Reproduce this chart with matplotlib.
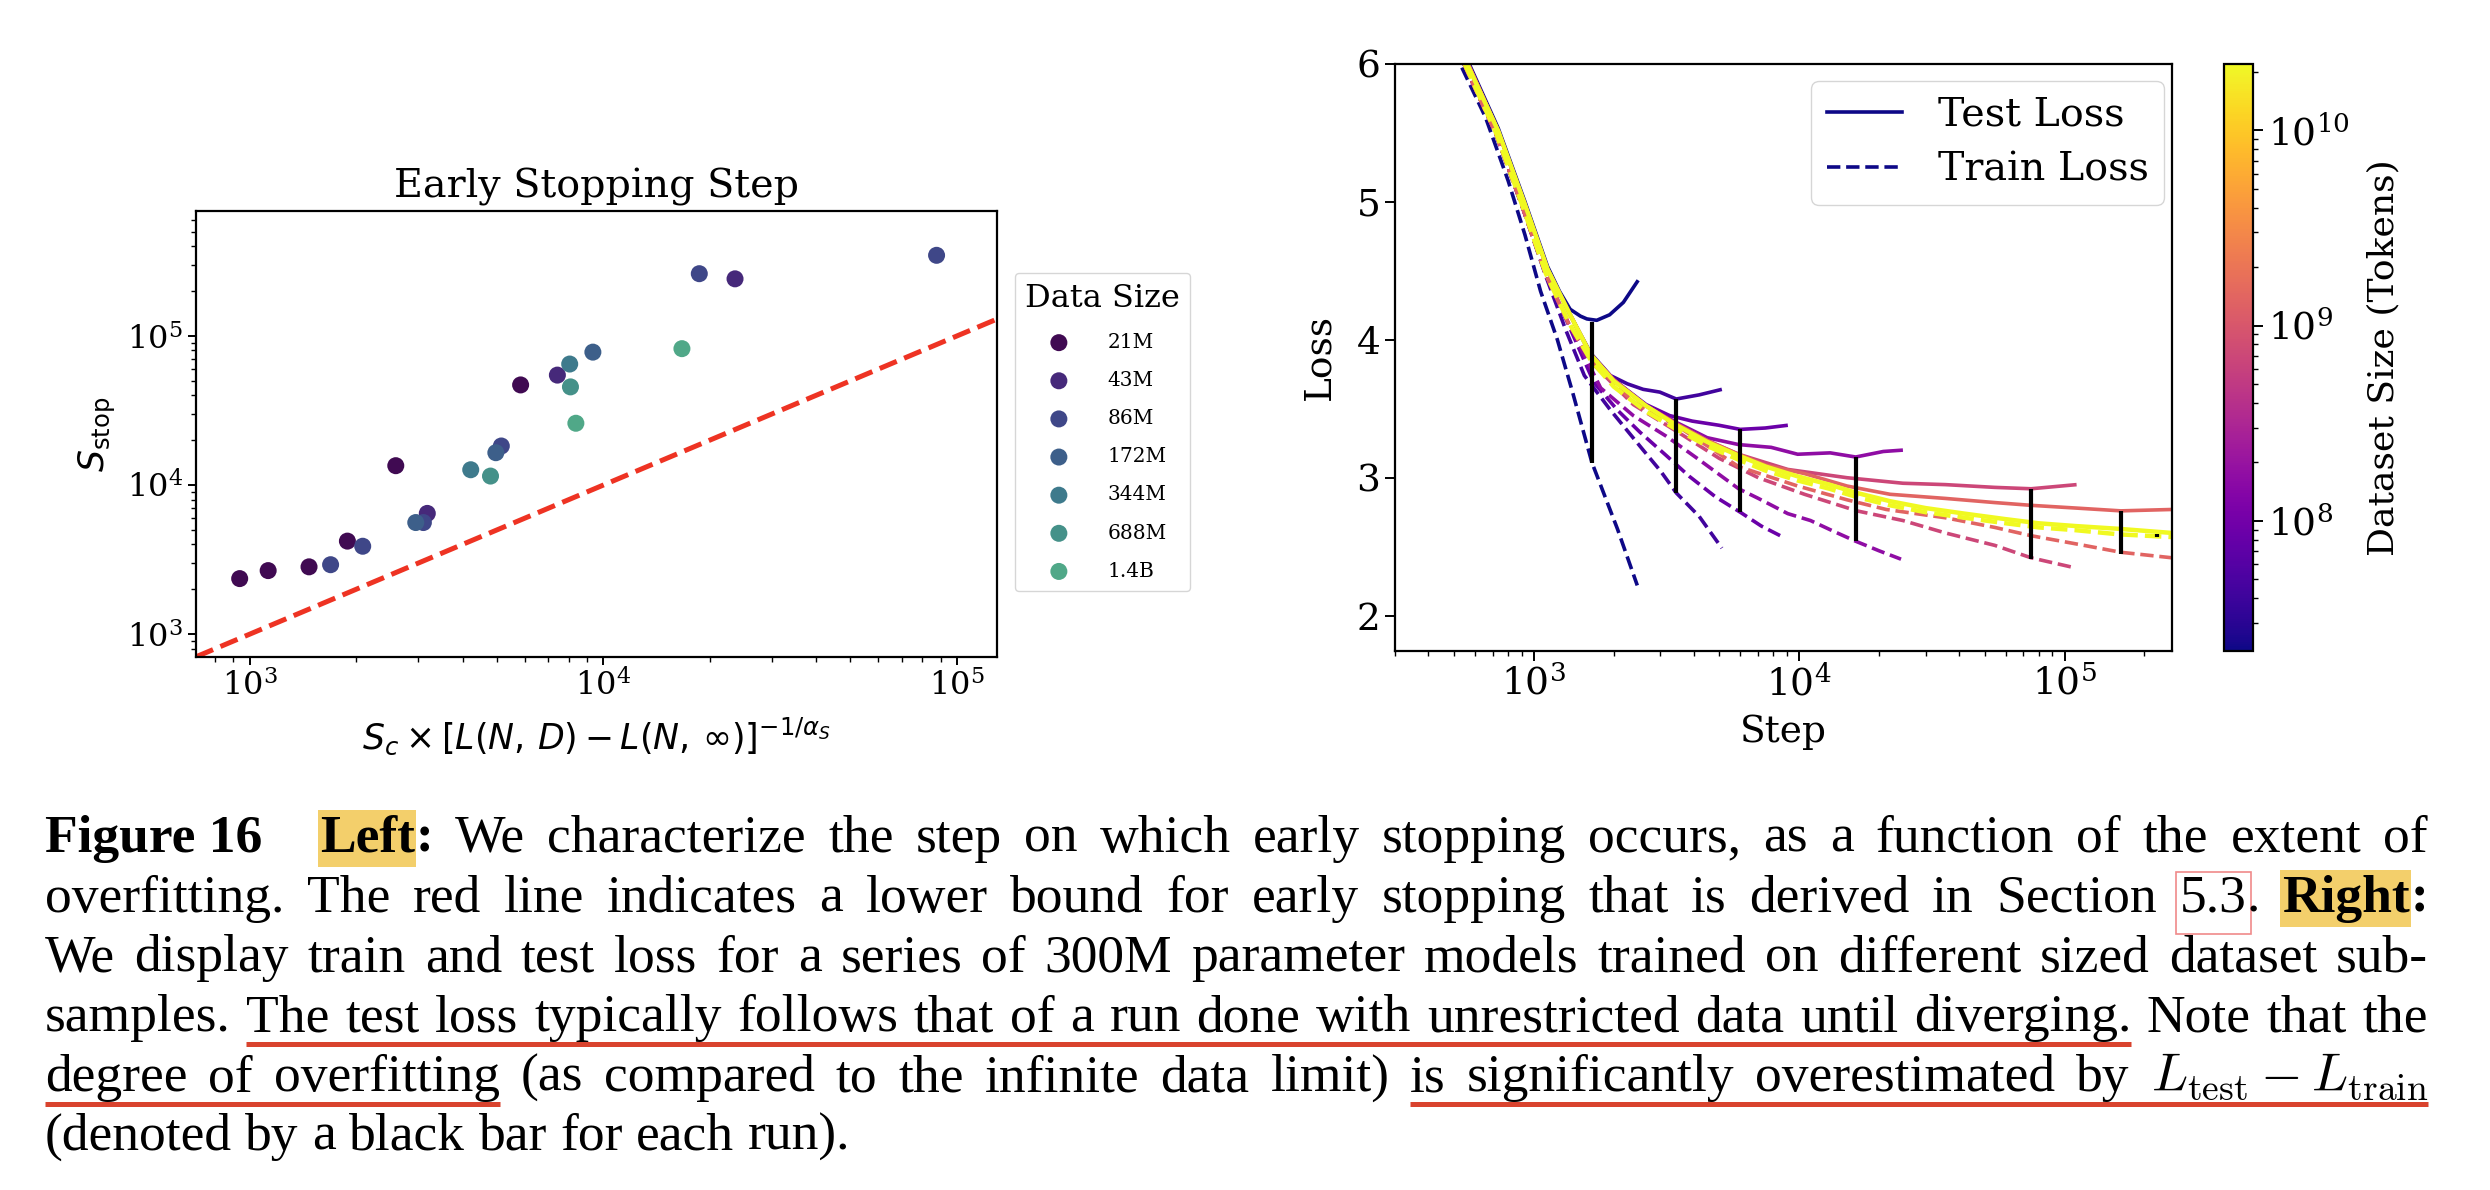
import numpy as np
import matplotlib
matplotlib.use("Agg")
import matplotlib.pyplot as plt
from matplotlib.colors import LogNorm
from matplotlib.patches import Rectangle
from matplotlib.lines import Line2D
import matplotlib.cm as cm

plt.rcParams["font.family"] = "serif"
plt.rcParams["font.serif"] = ["DejaVu Serif"]
plt.rcParams["mathtext.fontset"] = "dejavusans"
plt.rcParams["axes.linewidth"] = 1.6

# ---------------- Left panel data ----------------
size_labels = ["21M", "43M", "86M", "172M", "344M", "688M", "1.4B"]
size_colors = ["#400a52", "#46297a", "#3f4788", "#3d5f8a", "#3e7a8c", "#459189", "#50a888"]
pred_step = [937, 1128, 1472, 1694, 1890, 2088, 2590, 3180, 2950, 3100, 4220, 4800,
             4970, 5150, 5840, 7420, 8040, 8080, 8370, 9350, 16700, 18700, 23600, 87700]
stop_step = [2360, 2670, 2830, 2925, 4210, 3890, 13500, 6460, 5610, 5610, 12680, 11500,
             16500, 18300, 47000, 54700, 64900, 45600, 26000, 78000, 82300, 262000, 242000, 348000]
point_size = ["21M", "21M", "21M", "86M", "21M", "86M", "21M", "43M", "172M", "86M", "344M", "688M",
              "172M", "86M", "21M", "43M", "344M", "688M", "1.4B", "172M", "1.4B", "86M", "43M", "86M"]
bound_x = [1e3, 1e5]   # lower bound S_stop = x
bound_y = [1e3, 1e5]

# ---------------- Right panel data ----------------
run_sizes = [2.15e7, 4.3e7, 8.6e7, 1.72e8, 6.88e8, 1.38e9, 2.2e10]
test_steps = [
    [570, 735, 926, 1127, 1250, 1371, 1500, 1586, 1727, 1931, 2176, 2474],
    [565, 735, 926, 1127, 1371, 1641, 1945, 2253, 2584, 2986, 3443, 4200, 5113],
    [565, 735, 926, 1127, 1371, 1641, 2000, 2650, 3251, 3954, 4985, 6000, 7452, 9065],
    [565, 735, 926, 1127, 1371, 1641, 2000, 2650, 3451, 4500, 5915, 7840, 9870, 13090, 16330, 20750, 24600],
    [565, 735, 926, 1127, 1371, 1641, 2000, 2650, 3450, 4500, 5915, 9060, 15140, 24600, 35560, 54600, 74800, 111000],
    [565, 735, 926, 1127, 1371, 1641, 2000, 2650, 3450, 4500, 5915, 7500, 10470, 15140, 22000, 35560, 54600,
     74800, 111000, 163000, 254000],
    [560, 735, 926, 1127, 1371, 1641, 2000, 2650, 3450, 4500, 5915, 7500, 9870, 13000, 16480, 22000, 30000,
     42000, 60000, 80000, 110000, 160000, 254000],
]
test_loss = [
    [6.0, 5.53, 5.0, 4.53, 4.35, 4.22, 4.17, 4.15, 4.14, 4.18, 4.27, 4.43],
    [6.0, 5.51, 4.98, 4.51, 4.18, 3.90, 3.74, 3.68, 3.64, 3.62, 3.57, 3.60, 3.64],
    [6.0, 5.51, 4.98, 4.51, 4.18, 3.89, 3.71, 3.53, 3.45, 3.41, 3.38, 3.35, 3.36, 3.38],
    [6.0, 5.51, 4.98, 4.51, 4.18, 3.89, 3.71, 3.52, 3.40, 3.29, 3.24, 3.22, 3.17, 3.18, 3.15, 3.19, 3.20],
    [6.0, 5.51, 4.98, 4.51, 4.18, 3.89, 3.71, 3.52, 3.39, 3.27, 3.17, 3.06, 3.00, 2.96, 2.95, 2.93, 2.92, 2.95],
    [6.0, 5.51, 4.98, 4.51, 4.18, 3.89, 3.71, 3.52, 3.39, 3.27, 3.17, 3.09, 3.03, 2.94, 2.88, 2.85, 2.82,
     2.80, 2.78, 2.76, 2.77],
    [6.0, 5.51, 4.98, 4.51, 4.18, 3.89, 3.70, 3.52, 3.38, 3.26, 3.16, 3.08, 3.01, 2.95, 2.89, 2.83, 2.78,
     2.74, 2.70, 2.67, 2.65, 2.63, 2.60],
]
train_steps = [
    [536, 658, 801, 926, 1061, 1227, 1400, 1656, 2066, 2455],
    [545, 720, 910, 1110, 1320, 1551, 1945, 2584, 3000, 3443, 4200, 5113],
    [545, 720, 910, 1110, 1350, 1684, 2066, 2512, 3160, 3855, 4850, 6000, 7200, 8690],
    [545, 720, 910, 1110, 1350, 1787, 2371, 3160, 4200, 5915, 7020, 9060, 11030, 13550, 16330, 20050, 24200],
    [545, 720, 910, 1110, 1350, 1641, 2371, 3630, 5000, 7020, 10470, 16480, 24600, 35560, 54600, 74800, 108000],
    [545, 720, 910, 1110, 1350, 1641, 2371, 3630, 5915, 9870, 15140, 21280, 35560, 54600, 74800, 111000,
     163000, 254000],
    [548, 720, 910, 1110, 1350, 1641, 2000, 2650, 3450, 4500, 5915, 7500, 9870, 13000, 16480, 22000, 30000,
     42000, 60000, 80000, 110000, 160000, 254000],
]
train_loss = [
    [5.97, 5.61, 5.15, 4.76, 4.35, 4.00, 3.62, 3.11, 2.63, 2.22],
    [6.0, 5.49, 4.95, 4.46, 4.07, 3.74, 3.49, 3.20, 3.05, 2.89, 2.72, 2.49],
    [6.0, 5.49, 4.95, 4.47, 4.11, 3.69, 3.49, 3.33, 3.16, 3.01, 2.86, 2.75, 2.65, 2.57],
    [6.0, 5.49, 4.95, 4.47, 4.12, 3.65, 3.45, 3.30, 3.13, 2.92, 2.85, 2.74, 2.69, 2.61, 2.54, 2.47, 2.41],
    [6.0, 5.49, 4.95, 4.47, 4.12, 3.84, 3.53, 3.31, 3.14, 3.00, 2.88, 2.76, 2.69, 2.60, 2.51, 2.42, 2.35],
    [6.0, 5.49, 4.95, 4.47, 4.12, 3.85, 3.55, 3.35, 3.08, 2.94, 2.84, 2.77, 2.71, 2.64, 2.58, 2.52, 2.46, 2.42],
    [6.0, 5.50, 4.96, 4.48, 4.13, 3.85, 3.66, 3.48, 3.35, 3.23, 3.13, 3.05, 2.98, 2.92, 2.86, 2.80, 2.75,
     2.71, 2.67, 2.64, 2.62, 2.59, 2.57],
]
bar_steps = [1656, 3443, 6000, 16330, 74800, 163000, 223000]
bar_top = [4.13, 3.57, 3.35, 3.15, 2.92, 2.76, 2.59]
bar_bottom = [3.11, 2.89, 2.75, 2.54, 2.41, 2.45, 2.57]

# ---------------- Figure ----------------
W, H, DPI = 2490, 1190, 100
fig = plt.figure(figsize=(W / DPI, H / DPI), dpi=DPI)


def fx(px):
    return px / W


def fy(py):
    return 1 - py / H


# ---- Left panel ----
axL = fig.add_axes([fx(196), fy(657), (997 - 196) / W, (657 - 211) / H])
axL.set_xscale("log")
axL.set_yscale("log")
for lab, col in zip(size_labels, size_colors):
    xs = [x for x, p in zip(pred_step, point_size) if p == lab]
    ys = [y for y, p in zip(stop_step, point_size) if p == lab]
    axL.scatter(xs, ys, s=150, color=col, edgecolors="none", label=lab, zorder=3)
axL.axline((bound_x[0], bound_y[0]), (bound_x[1], bound_y[1]), color="#ee3323", lw=3.6, ls="--", zorder=2)
axL.set_xlim(705, 1.3e5)
axL.set_ylim(703, 6.9e5)
axL.set_title("Early Stopping Step", fontsize=28.5, pad=10)
axL.set_xlabel(r"$S_c \times [L(N,\,D) - L(N,\,\infty)]^{-1/\alpha_S}$", fontsize=25, labelpad=9)
axL.set_ylabel(r"$S_{\rm stop}$", fontsize=25, labelpad=6)
axL.tick_params(which="major", length=6, width=1.4, labelsize=23)
axL.tick_params(which="minor", length=3.5, width=1.0)
legL = axL.legend(title="Data Size", loc="center left", bbox_to_anchor=(1.01, 0.505), fontsize=14.5,
                  title_fontsize=23, labelspacing=0.95, handletextpad=1.4, borderpad=0.5,
                  scatterpoints=1, edgecolor="#cccccc")

# ---- Right panel ----
axR = fig.add_axes([fx(1395), fy(651), (2172 - 1395) / W, (651 - 63.5) / H])
axR.set_xscale("log")
norm = LogNorm(vmin=2.15e7, vmax=2.2e10)
cmap = plt.get_cmap("plasma")
for i, sz in enumerate(run_sizes):
    c = cmap(norm(sz))
    lw = 3.2 if i == len(run_sizes) - 1 else 2.6
    axR.plot(test_steps[i], test_loss[i], color=c, lw=lw, solid_capstyle="butt")
    axR.plot(train_steps[i], train_loss[i], color=c, lw=lw, ls="--")
axR.vlines(bar_steps, bar_bottom, bar_top, color="black", lw=3.0, zorder=6)
axR.set_xlim(300, 2.54e5)
axR.set_ylim(1.745, 6)
axR.set_yticks([2, 3, 4, 5, 6])
axR.set_xlabel("Step", fontsize=27, labelpad=8)
axR.set_ylabel("Loss", fontsize=27, labelpad=14)
axR.tick_params(which="major", length=7, width=1.4, labelsize=27)
axR.tick_params(which="minor", length=3.5, width=1.0)
navy = cmap(norm(run_sizes[0]))
handles = [Line2D([], [], color=navy, lw=2.6), Line2D([], [], color=navy, lw=2.6, ls="--")]
axR.legend(handles, ["Test Loss", "Train Loss"], loc="upper right", bbox_to_anchor=(0.99, 0.97),
           borderaxespad=0, fontsize=28.5, handlelength=1.9, handletextpad=0.9, labelspacing=0.45,
           edgecolor="#cccccc")

cax = fig.add_axes([fx(2224), fy(651), 29 / W, (651 - 63.5) / H])
sm = cm.ScalarMappable(norm=norm, cmap=cmap)
cb = fig.colorbar(sm, cax=cax)
cb.set_label("Dataset Size (Tokens)", fontsize=26, labelpad=12)
cb.ax.tick_params(which="major", length=7, width=1.4, labelsize=27)
cb.ax.tick_params(which="minor", length=3.5, width=1.0)
cb.outline.set_linewidth(1.6)

# ---------------- Caption ----------------
CAP_FS = 38.5
CAP_FAMILY = "Liberation Serif"


def words(s, style="n"):
    return [[(w, style)] for w in s.split(" ")]


cap_lines = [
    [[("Figure 16", "b")], [("Left", "hl"), (":", "b")]]
    + words("We characterize the step on which early stopping occurs, as a function of the extent of"),
    words("overfitting. The red line indicates a lower bound for early stopping that is derived in Section")
    + [[("5.3", "box"), (".", "n")], [("Right", "hl"), (":", "b")]],
    words("We display train and test loss for a series of 300M parameter models trained on different sized dataset sub-"),
    words("samples. The test loss typically follows that of a run done with unrestricted data until diverging. Note that the"),
    words("degree of overfitting (as compared to the infinite data limit) is significantly overestimated by")
    + [[(r"$L_{\rm test} - L_{\rm train}$", "m")]],
    words("(denoted by a black bar for each run)."),
]
cap_base = [852, 912, 971, 1031, 1091, 1150]
cap_left, cap_right = 45, 2428
underline_runs = [(3, 1, 15), (4, 0, 2), (4, 10, 14)]
fixed_gaps = {(0, 0): 58}

renderer = fig.canvas.get_renderer()
token_pos = {}
for li, toks in enumerate(cap_lines):
    yb = fy(cap_base[li])
    tok_info = []
    for tok in toks:
        pieces = []
        for txt, st in tok:
            kw = dict(fontsize=CAP_FS, va="baseline", ha="left", zorder=3)
            if st == "m":
                t = fig.text(0, yb, txt, math_fontfamily="cm", **kw)
            else:
                t = fig.text(0, yb, txt, family=CAP_FAMILY,
                             weight="bold" if st in ("b", "hl") else "normal", **kw)
            w = t.get_window_extent(renderer).width
            pieces.append([t, w, st])
        tok_info.append(pieces)
    widths = [sum(p[1] for p in pcs) for pcs in tok_info]
    ngaps = len(toks) - 1
    fixed = sum(v for (l, g), v in fixed_gaps.items() if l == li)
    nfree = ngaps - sum(1 for (l, g) in fixed_gaps if l == li)
    if li == len(cap_lines) - 1:
        gap = 0.25 * CAP_FS * DPI / 72
    else:
        gap = (cap_right - cap_left - sum(widths) - fixed) / nfree
    x = cap_left
    for ti, pcs in enumerate(tok_info):
        x0 = x
        for t, w, st in pcs:
            t.set_x(fx(x))
            if st == "hl":
                fig.patches.append(Rectangle((fx(x - 2), fy(cap_base[li] + 15)), (w + 3) / W, 57 / H,
                                             transform=fig.transFigure, facecolor="#f3cf6b",
                                             edgecolor="none", zorder=1))
            if st == "box":
                fig.patches.append(Rectangle((fx(x - 4), fy(cap_base[li] + 22)), (w + 8) / W, 62 / H,
                                             transform=fig.transFigure, facecolor="none",
                                             edgecolor="#f08a8a", lw=1.2, zorder=1))
            x += w
        token_pos[(li, ti)] = (x0, x)
        if ti < ngaps:
            x += fixed_gaps.get((li, ti), gap)

for li, a, b in underline_runs:
    xs0 = token_pos[(li, a)][0]
    xs1 = token_pos[(li, b)][1]
    yy = fy(cap_base[li] + 13)
    fig.lines.append(Line2D([fx(xs0), fx(xs1)], [yy, yy], transform=fig.transFigure,
                            color="#d9432e", lw=3.6, solid_capstyle="butt", zorder=2))

fig.savefig("out.png", dpi=DPI)
